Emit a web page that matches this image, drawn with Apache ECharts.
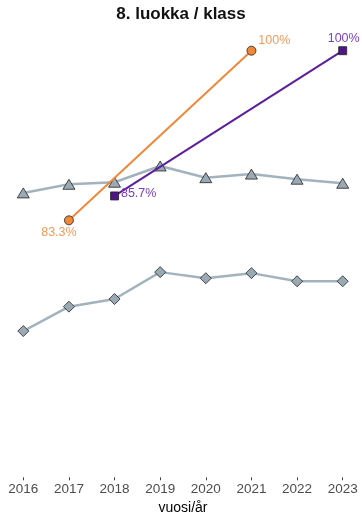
<!DOCTYPE html>
<html>
<head>
<meta charset="utf-8">
<script src="https://cdn.jsdelivr.net/npm/echarts@6/dist/echarts.min.js"></script>
<style>html,body{margin:0;padding:0;background:#fff}#c{width:362px;height:512px}</style>
</head>
<body>
<div id="c"></div>
<script>
const years = ['2016','2017','2018','2019','2020','2021','2022','2023'];
const orangeValues = [null, 83.3, null, null, null, 100, null, null];
const purpleValues = [null, null, 85.7, null, null, null, null, 100];
const triangleValues = [86.0, 86.85, 87.05, 88.65, 87.5, 87.85, 87.35, 86.95];
const diamondValues = [72.4, 74.8, 75.55, 78.2, 77.6, 78.1, 77.3, 77.3];

const FONT = 'Liberation Sans, Arial, Helvetica, sans-serif';

function labelled(values, cfgs) {
  let k = 0;
  return values.map(v => {
    if (v === null) return null;
    const c = cfgs[k++];
    return { value: v, label: Object.assign({ show: true, formatter: '{c}%', fontFamily: FONT, fontSize: 12.5 }, c) };
  });
}

const chart = echarts.init(document.getElementById('c'), null, { renderer: 'canvas' });
chart.setOption({
  animation: false,
  backgroundColor: '#ffffff',
  title: {
    text: '8. luokka / klass', left: 'center', top: 6, padding: 0,
    textStyle: { fontFamily: FONT, fontSize: 17, fontWeight: 'bold', color: '#111' }
  },
  grid: { left: 23.3, right: 19.3, top: 50.7, height: 426.6, containLabel: false, outerBoundsMode: 'none' },
  xAxis: {
    type: 'category', data: years, boundaryGap: false,
    axisLine: { show: false },
    axisTick: { show: true, length: 3, lineStyle: { color: '#444', width: 1 }, alignWithLabel: true },
    axisLabel: { color: '#4d4d4d', fontSize: 13.5, fontFamily: FONT, margin: 5 },
    splitLine: { show: false },
    name: 'vuosi/år', nameLocation: 'middle', nameGap: 22,
    nameTextStyle: { color: '#000', fontSize: 14, fontFamily: FONT }
  },
  yAxis: {
    type: 'value', min: 58, max: 100, show: false, splitLine: { show: false }
  },
  series: [
    {
      type: 'line', data: triangleValues, symbol: 'triangle', symbolSize: [12, 10],
      lineStyle: { color: '#a3b3be', width: 2.5 },
      itemStyle: { color: '#9aaab5', borderColor: '#222', borderWidth: 0.8 },
      z: 2
    },
    {
      type: 'line', data: diamondValues, symbol: 'diamond', symbolSize: [11, 11],
      lineStyle: { color: '#a3b3be', width: 2.5 },
      itemStyle: { color: '#9aaab5', borderColor: '#222', borderWidth: 0.8 },
      z: 2
    },
    {
      type: 'line', connectNulls: true, symbol: 'circle', symbolSize: 9,
      data: labelled(orangeValues, [
        { position: 'bottom', distance: 1, offset: [-10, 0], color: '#f39a5c' },
        { position: 'right', distance: 2, offset: [0, -10], color: '#f39a5c' }
      ]),
      lineStyle: { color: '#f0883a', width: 2 },
      itemStyle: { color: '#f0883a', borderColor: '#222', borderWidth: 0.8 },
      z: 3
    },
    {
      type: 'line', connectNulls: true, symbol: 'rect', symbolSize: 8,
      data: labelled(purpleValues, [
        { position: 'right', distance: 2, offset: [0, -2], color: '#7a3fc0' },
        { position: 'top', distance: 1, offset: [1, 0], color: '#7a3fc0' }
      ]),
      lineStyle: { color: '#5b1f9c', width: 2 },
      itemStyle: { color: '#4e1689', borderColor: '#222', borderWidth: 0.8 },
      z: 3
    }
  ]
});
</script>
</body>
</html>
